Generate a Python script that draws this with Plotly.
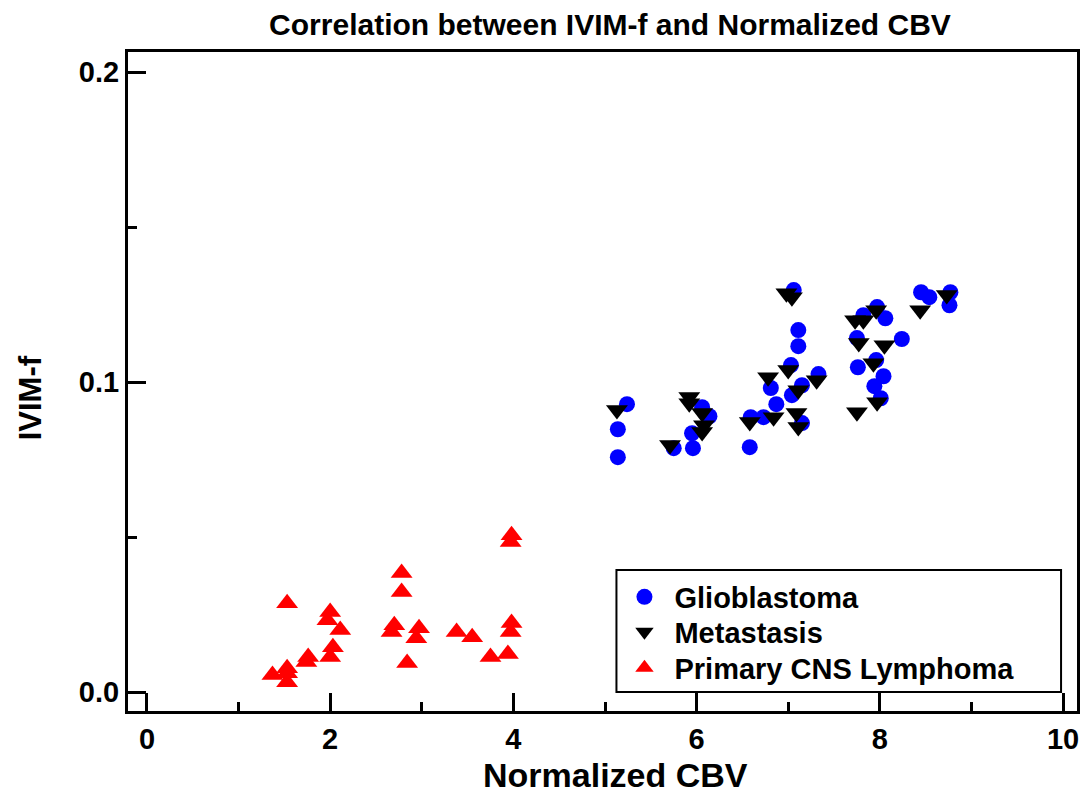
import plotly.graph_objects as go

# Normalized CBV (x) and IVIM-f (y) per tumour group
gbm_cbv = [5.24, 5.14, 5.14, 5.75, 6.06, 6.14, 5.95, 5.96, 6.59, 6.58, 6.73, 6.81,
           6.87, 7.06, 7.11, 7.11, 7.03, 7.33, 7.15, 7.04, 7.15, 7.82, 7.97, 8.06,
           7.75, 8.24, 7.76, 7.96, 8.04, 7.94, 8.01, 8.45, 8.54, 8.77, 8.76]
gbm_f = [0.0929, 0.0848, 0.0758, 0.0787, 0.0919, 0.0890, 0.0835, 0.0787, 0.0887,
         0.0790, 0.0887, 0.0981, 0.0929, 0.1297, 0.1168, 0.1116, 0.1055, 0.1026,
         0.0990, 0.0958, 0.0868, 0.1216, 0.1242, 0.1206, 0.1142, 0.1139, 0.1048,
         0.1071, 0.1019, 0.0987, 0.0948, 0.1290, 0.1274, 0.1290, 0.1248]

met_cbv = [5.13, 5.71, 5.92, 5.92, 6.06, 6.08, 6.06, 6.58, 6.84, 6.78, 6.98, 7.04,
           7.00, 7.31, 7.11, 7.09, 7.11, 7.73, 7.82, 7.96, 7.77, 8.05, 7.93, 7.97,
           7.75, 8.44, 8.73]
met_f = [0.0910, 0.0797, 0.0952, 0.0932, 0.0900, 0.0861, 0.0839, 0.0871, 0.0887,
         0.1016, 0.1287, 0.1274, 0.1039, 0.1006, 0.0974, 0.0900, 0.0855, 0.1200,
         0.1200, 0.1232, 0.1126, 0.1119, 0.1061, 0.0935, 0.0903, 0.1232, 0.1281]

pcnsl_cbv = [1.53, 2.00, 1.97, 2.11, 2.03, 2.00, 1.76, 1.74, 1.37, 1.53, 1.53, 1.53,
             2.78, 2.78, 2.70, 2.67, 2.84, 2.97, 2.94, 3.38, 3.55, 3.98, 3.97, 3.98,
             3.97, 3.75, 3.94]
pcnsl_f = [0.0287, 0.0258, 0.0232, 0.0200, 0.0145, 0.0113, 0.0113, 0.0097, 0.0055,
           0.0077, 0.0061, 0.0032, 0.0384, 0.0323, 0.0216, 0.0194, 0.0094, 0.0206,
           0.0174, 0.0194, 0.0177, 0.0506, 0.0484, 0.0223, 0.0194, 0.0113, 0.0123]

x_ticks = [0, 2, 4, 6, 8, 10]
y_ticks = [0.0, 0.1, 0.2]
y_tick_text = ["0.0", "0.1", "0.2"]

FONT = "Liberation Sans, Arial, sans-serif"

fig = go.Figure()
fig.add_trace(go.Scatter(
    x=gbm_cbv, y=gbm_f, mode="markers", name="Glioblastoma", legend="legend",
    marker=dict(symbol="circle", size=16, color="#0000ff", line=dict(width=0)),
))
fig.add_trace(go.Scatter(
    x=met_cbv, y=met_f, mode="markers", name="Metastasis", legend="legend2",
    marker=dict(symbol="triangle-down", size=19, color="#000000", line=dict(width=0)),
))
fig.add_trace(go.Scatter(
    x=pcnsl_cbv, y=pcnsl_f, mode="markers", name="Primary CNS Lymphoma", legend="legend3",
    marker=dict(symbol="triangle-up", size=19, color="#ff0000", line=dict(width=0)),
))

# Legend frame
fig.add_shape(type="rect", xref="paper", yref="paper",
              x0=0.5147, x1=0.9832, y0=0.0288, y1=0.2140,
              line=dict(color="black", width=2), fillcolor="rgba(0,0,0,0)")

axis_common = dict(
    showline=True, linecolor="black", linewidth=3, mirror=True,
    ticks="inside", tickcolor="black", tickwidth=3, ticklen=18,
    showgrid=False, zeroline=False,
    tickfont=dict(family=FONT, size=29, color="black", weight="bold"),
)

fig.update_xaxes(
    range=[-0.2067, 10.152], tickvals=x_ticks,
    minor=dict(dtick=1, tick0=0, ticks="inside", ticklen=9, tickwidth=3, tickcolor="black"),
    **axis_common,
)
fig.update_yaxes(
    range=[-0.0061, 0.2065], tickvals=y_ticks, ticktext=y_tick_text,
    minor=dict(dtick=0.05, tick0=0, ticks="inside", ticklen=9, tickwidth=3, tickcolor="black"),
    **axis_common,
)

# Axis titles
fig.add_annotation(text="Normalized CBV", xref="paper", yref="paper",
                   x=(617 - 128) / 952, y=-64 / 659, xanchor="center", yanchor="middle",
                   showarrow=False,
                   font=dict(family=FONT, size=34, color="black", weight="bold"))
fig.add_annotation(text="IVIM-f", xref="paper", yref="paper",
                   x=(30 - 128) / 952, y=(711 - 398) / 659, xanchor="center", yanchor="middle",
                   textangle=-90, showarrow=False,
                   font=dict(family=FONT, size=31, color="black", weight="bold"))

legend_common = dict(
    x=0.5126, xanchor="left", yanchor="middle", itemwidth=50,
    bgcolor="rgba(0,0,0,0)", borderwidth=0, itemsizing="trace",
    font=dict(family=FONT, size=29, color="black", weight="bold"),
)

fig.update_layout(
    width=1086, height=800,
    margin=dict(l=128, r=6, t=52, b=89),
    paper_bgcolor="white", plot_bgcolor="white",
    title=dict(text="Correlation between IVIM-f and Normalized CBV",
               x=0.5617, xanchor="center", y=0.97, yanchor="middle",
               font=dict(family=FONT, size=30, color="black", weight="bold")),
    legend=dict(y=(711 - 597) / 659, **legend_common),
    legend2=dict(y=(711 - 632) / 659, **legend_common),
    legend3=dict(y=(711 - 668) / 659, **legend_common),
    showlegend=True,
)

fig.write_html("out.html")
